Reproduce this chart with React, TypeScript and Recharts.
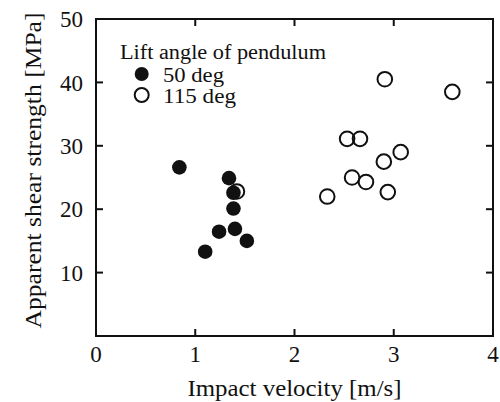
import React from 'react';
import { ScatterChart, Scatter, XAxis, YAxis, Legend, ReferenceArea } from 'recharts';

// Lift angle 50 deg (filled markers)
const vel50 = [0.84, 1.10, 1.24, 1.34, 1.385, 1.385, 1.40, 1.52];
const shear50 = [26.6, 13.3, 16.45, 24.9, 22.6, 20.1, 16.9, 15.0];

// Lift angle 115 deg (open markers)
const vel115 = [1.42, 2.33, 2.53, 2.66, 2.58, 2.72, 2.90, 2.91, 3.07, 2.94, 3.59];
const shear115 = [22.8, 22.0, 31.1, 31.1, 25.0, 24.3, 27.5, 40.5, 29.0, 22.7, 38.5];

const xTicks = [0, 1, 2, 3, 4];
const yTicks = [0, 10, 20, 30, 40, 50];

const legendTitle = 'Lift angle of pendulum';
const seriesNames = ['50 deg', '115 deg'];
const xTitle = 'Impact velocity [m/s]';
const yTitle = 'Apparent shear strength [MPa]';

const X_MIN = xTicks[0];
const X_MAX = xTicks[xTicks.length - 1];
const Y_MIN = yTicks[0];
const Y_MAX = yTicks[yTicks.length - 1];

const data50 = vel50.map((v, i) => ({ v, s: shear50[i] }));
const data115 = vel115.map((v, i) => ({ v, s: shear115[i] }));

// Inner tick positions on all four sides of the frame
const innerX = xTicks.slice(1, -1);
const innerY = yTicks.slice(1, -1);
const ticksBottom = innerX.map((v) => ({ v, s: Y_MIN }));
const ticksTop = innerX.map((v) => ({ v, s: Y_MAX }));
const ticksLeft = innerY.map((s) => ({ v: X_MIN, s }));
const ticksRight = innerY.map((s) => ({ v: X_MAX, s }));

const INK = '#111';
const FONT = '"Liberation Serif", "Times New Roman", Times, "DejaVu Serif", serif';
const R = 7.3;
const TL = 7;

const FilledDot = (p: any) => <circle cx={p.cx} cy={p.cy} r={R} fill={INK} />;
const OpenDot = (p: any) => (
  <circle cx={p.cx} cy={p.cy} r={R} fill="none" stroke={INK} strokeWidth={2} />
);
const tickLine = (x1: number, y1: number, x2: number, y2: number) => (
  <line x1={x1} y1={y1} x2={x2} y2={y2} stroke={INK} strokeWidth={2} />
);
const TickUp = (p: any) => tickLine(p.cx, p.cy, p.cx, p.cy - TL);
const TickDown = (p: any) => tickLine(p.cx, p.cy, p.cx, p.cy + TL);
const TickRight = (p: any) => tickLine(p.cx, p.cy, p.cx + TL, p.cy);
const TickLeft = (p: any) => tickLine(p.cx, p.cy, p.cx - TL, p.cy);

const Frame = (p: any) => (
  <rect x={p.x} y={p.y} width={p.width} height={p.height} fill="none" stroke={INK} strokeWidth={2} />
);

const XTitle = (p: any) => {
  const vb = p.viewBox;
  return (
    <text
      x={vb.x + vb.width / 2}
      y={vb.y + 60}
      textAnchor="middle"
      style={{ fontFamily: FONT, fontSize: 23 }}
      textLength={214}
      lengthAdjust="spacingAndGlyphs"
      fill={INK}
    >
      {xTitle}
    </text>
  );
};
const YTitle = (p: any) => {
  const vb = p.viewBox;
  const cx = vb.x + 41;
  const cy = vb.y + vb.height / 2 - 7;
  return (
    <text
      x={cx}
      y={cy}
      transform={`rotate(-90 ${cx} ${cy})`}
      textAnchor="middle"
      style={{ fontFamily: FONT, fontSize: 23 }}
      textLength={316}
      lengthAdjust="spacingAndGlyphs"
      fill={INK}
    >
      {yTitle}
    </text>
  );
};

const legendFont = { fontFamily: FONT, fontSize: 20 };
const LegendBox = () => (
  <svg width={240} height={80} style={{ display: 'block', overflow: 'visible' }}>
    <text x={10} y={23} style={legendFont} textLength={206} lengthAdjust="spacingAndGlyphs" fill={INK}>
      {legendTitle}
    </text>
    <circle cx={31.7} cy={38} r={7} fill={INK} />
    <text x={53} y={46} style={legendFont} textLength={61} lengthAdjust="spacingAndGlyphs" fill={INK}>
      {seriesNames[0]}
    </text>
    <circle cx={31.7} cy={59} r={7} fill="none" stroke={INK} strokeWidth={2} />
    <text x={53} y={67} style={legendFont} textLength={73} lengthAdjust="spacingAndGlyphs" fill={INK}>
      {seriesNames[1]}
    </text>
  </svg>
);

const axisCommon = {
  type: 'number' as const,
  allowDataOverflow: true,
  tickSize: -7,
  axisLine: false,
  tickLine: false,
  interval: 0 as const,
};
const tickText = { fontFamily: FONT, fontSize: 23, fill: INK, stroke: 'none' };
const yLabel = (v: number) => (v === 0 ? '' : String(v));

export default function App() {
  return (
    <div style={{ position: 'absolute', left: 0, top: 0, background: '#fff', fontFamily: FONT }}>
      <ScatterChart width={500} height={402} margin={{ top: 19, right: 7, bottom: 0, left: 0 }}>
        <XAxis
          {...axisCommon}
          dataKey="v"
          domain={[X_MIN, X_MAX]}
          ticks={xTicks}
          height={66}
          tickMargin={17}
          tick={tickText}
          label={{ content: XTitle }}
        />
        <YAxis
          {...axisCommon}
          dataKey="s"
          domain={[Y_MIN, Y_MAX]}
          ticks={yTicks}
          width={96}
          tickMargin={20}
          tick={tickText}
          tickFormatter={yLabel}
          label={{ content: YTitle }}
        />
        <ReferenceArea x1={X_MIN} x2={X_MAX} y1={Y_MIN} y2={Y_MAX} shape={Frame} ifOverflow="visible" />
        <Scatter data={ticksBottom} shape={TickUp} isAnimationActive={false} legendType="none" />
        <Scatter data={ticksTop} shape={TickDown} isAnimationActive={false} legendType="none" />
        <Scatter data={ticksLeft} shape={TickRight} isAnimationActive={false} legendType="none" />
        <Scatter data={ticksRight} shape={TickLeft} isAnimationActive={false} legendType="none" />
        <Legend
          layout="vertical"
          align="center"
          verticalAlign="middle"
          content={LegendBox}
          wrapperStyle={{ left: 110, top: 36, width: 240, height: 80 }}
        />
        <Scatter name={seriesNames[1]} data={data115} shape={OpenDot} isAnimationActive={false} />
        <Scatter name={seriesNames[0]} data={data50} shape={FilledDot} isAnimationActive={false} />
      </ScatterChart>
    </div>
  );
}
